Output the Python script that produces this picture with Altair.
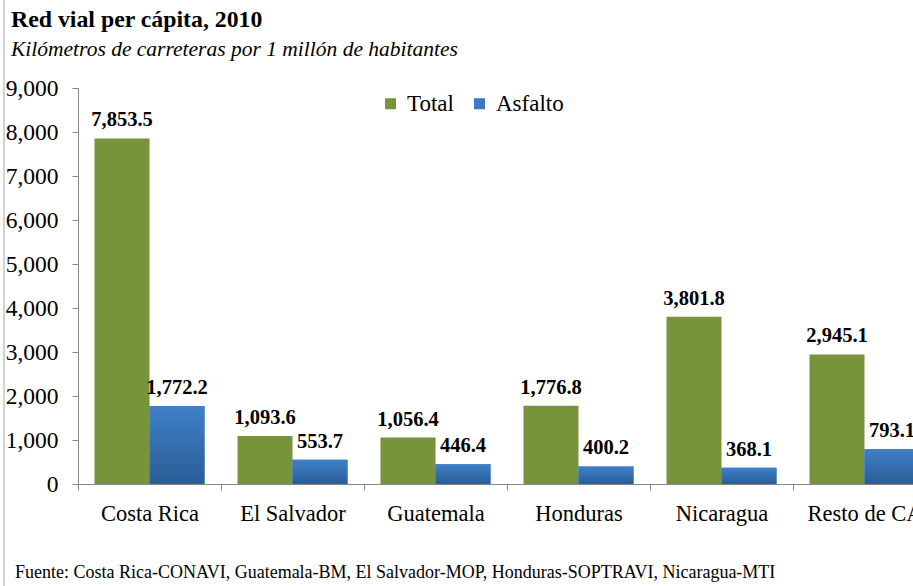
import altair as alt
import pandas as pd

paises = ["Costa Rica", "El Salvador", "Guatemala", "Honduras", "Nicaragua", "Resto de CA"]
total = [7853.5, 1093.6, 1056.4, 1776.8, 3801.8, 2945.1]
asfalto = [1772.2, 553.7, 446.4, 400.2, 368.1, 793.1]
series = ["Total", "Asfalto"]
colores = ["#77933C", "#3B79C1"]
y_ticks = [0, 1000, 2000, 3000, 4000, 5000, 6000, 7000, 8000, 9000]
titulo = "Red vial per cápita, 2010"
subtitulo = "Kilómetros de carreteras por 1 millón de habitantes"
fuente = "Fuente: Costa Rica-CONAVI, Guatemala-BM, El Salvador-MOP, Honduras-SOPTRAVI, Nicaragua-MTI"

rows = []
for p, t, a in zip(paises, total, asfalto):
    rows.append({"Pais": p, "Serie": "Total", "Valor": t})
    rows.append({"Pais": p, "Serie": "Asfalto", "Valor": a})
df = pd.DataFrame(rows)

FONT = "Liberation Serif"
AXC = "#868686"

x = alt.X("Pais:N", sort=paises, title=None,
          scale=alt.Scale(domain=paises, range=[0, 858], paddingInner=0, paddingOuter=0),
          axis=alt.Axis(tickBand="extent", labelFont=FONT, labelFontSize=22.5, labelColor="#000",
                        labelAngle=0, labelPadding=12, tickSize=6, tickColor=AXC,
                        domainColor=AXC, grid=False))
xo = alt.XOffset("Serie:N", sort=series,
                 scale=alt.Scale(domain=series, paddingOuter=0.3, paddingInner=0))
y = alt.Y("Valor:Q", scale=alt.Scale(domain=[0, 9000], nice=False),
          axis=alt.Axis(values=y_ticks, format=",d", title=None, labelFont=FONT,
                        labelFontSize=23.5, labelColor="#000", labelPadding=14, tickSize=6,
                        tickColor=AXC, domainColor=AXC, grid=False))

bars = alt.Chart(df).mark_bar().encode(
    x=x, xOffset=xo, y=y,
    color=alt.Color("Serie:N", sort=series, scale=alt.Scale(domain=series, range=colores),
                    legend=alt.Legend(title=None, orient="none", legendX=301, legendY=4,
                                      direction="horizontal", labelFont=FONT, labelFontSize=23,
                                      labelColor="#000", symbolType="square", symbolSize=121,
                                      symbolStrokeWidth=0, columnPadding=14, labelOffset=5)),
)

overlay = alt.Chart(df).transform_filter(alt.datum.Serie == "Asfalto").mark_bar(
    fill=alt.Gradient(gradient="linear", x1=0, x2=0, y1=0, y2=1,
                      stops=[alt.GradientStop(color="#3F80C8", offset=0),
                             alt.GradientStop(color="#2A5D96", offset=1)])
).encode(x=x, xOffset=xo, y=y)

labels = alt.Chart(df).mark_text(font=FONT, fontSize=20.5, fontWeight="bold",
                                 baseline="alphabetic", dy=-12, color="#000").encode(
    x=x, xOffset=xo, y=y, text=alt.Text("Valor:Q", format=",.1f"))

t1 = alt.Chart(pd.DataFrame({"t": [titulo]})).mark_text(
    align="left", baseline="alphabetic", font=FONT, fontSize=23.8, fontWeight="bold", color="#000"
).encode(x=alt.value(-67), y=alt.value(-61), text="t:N")
t2 = alt.Chart(pd.DataFrame({"t": [subtitulo]})).mark_text(
    align="left", baseline="alphabetic", font=FONT, fontSize=21.5, fontStyle="italic", color="#000"
).encode(x=alt.value(-67), y=alt.value(-32), text="t:N")
t3 = alt.Chart(pd.DataFrame({"t": [fuente]})).mark_text(
    align="left", baseline="alphabetic", font=FONT, fontSize=18, color="#000"
).encode(x=alt.value(-63), y=alt.value(490), text="t:N")
line = alt.Chart(pd.DataFrame({"a": [0]})).mark_rule(color="#A6A6A6").encode(
    x=alt.value(-74), y=alt.value(-88), y2=alt.value(498))

chart = alt.layer(bars, overlay, labels, t1, t2, t3, line).properties(
    width=835, height=396,
    autosize=alt.AutoSizeParams(type="none"),
    padding={"left": 78, "top": 88, "right": 0, "bottom": 102},
).configure_view(stroke=None)

chart.save("out.html", embed_options={"renderer": "svg", "actions": False})
